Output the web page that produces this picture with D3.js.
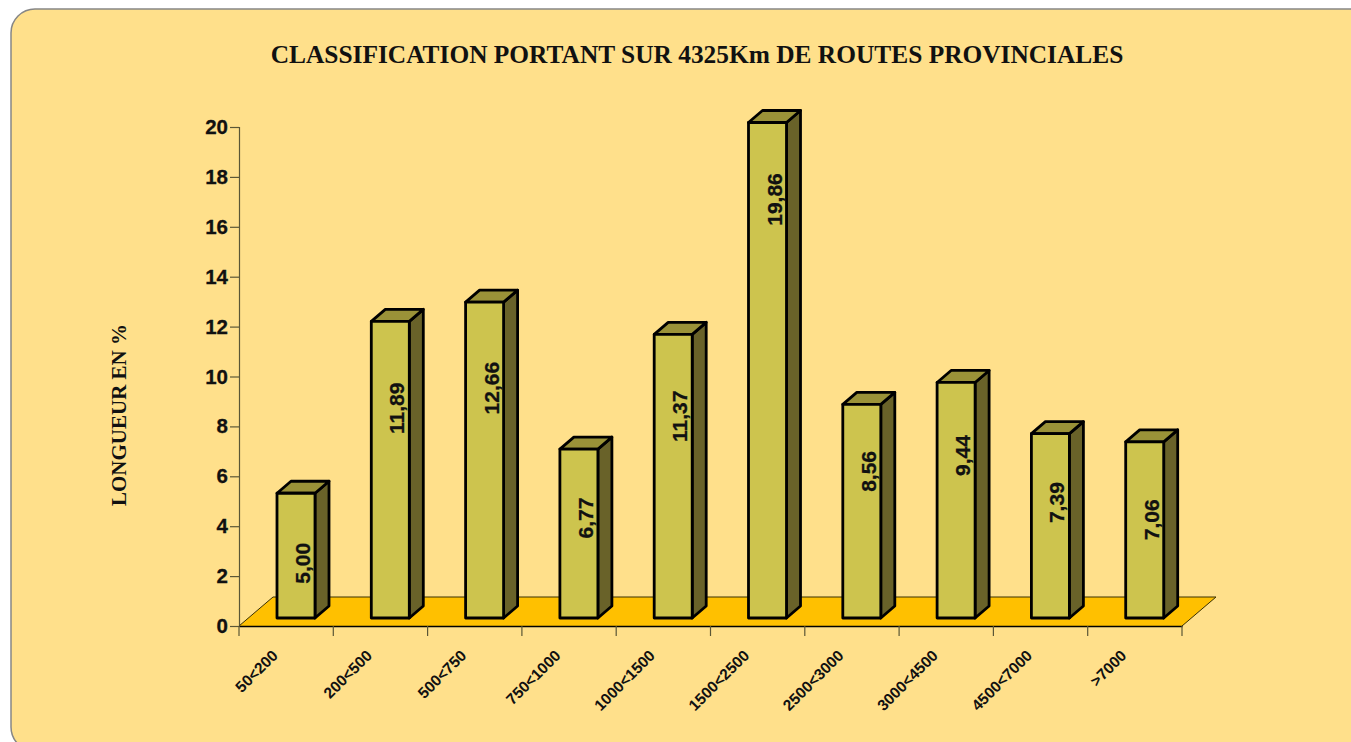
<!DOCTYPE html>
<html>
<head>
<meta charset="utf-8">
<script src="https://cdn.jsdelivr.net/npm/d3@7"></script>
<style>
html, body { margin: 0; padding: 0; background: #fff; overflow: hidden; }
svg { display: block; }
</style>
</head>
<body>
<div id="chart"></div>
<script>
const categories = ['50<200', '200<500', '500<750', '750<1000', '1000<1500', '1500<2500', '2500<3000', '3000<4500', '4500<7000', '>7000'];
const values = [5.00, 11.89, 12.66, 6.77, 11.37, 19.86, 8.56, 9.44, 7.39, 7.06];
const valueTicks = [0, 2, 4, 6, 8, 10, 12, 14, 16, 18, 20];

const titleText = 'CLASSIFICATION PORTANT SUR 4325Km DE ROUTES PROVINCIALES';
const yAxisText = 'LONGUEUR EN %';

// distance from the bar top to the middle of its label, read per bar from the picture
const labelDrop = [70, 87, 86, 69, 82, 77, 67, 73, 69, 78];

const width = 1351;
const height = 742;
const barWidth = 38;
const depthX = 34, depthY = 29;   // floor depth
const barDepthX = 14, barDepthY = 12;
const arial = '"Liberation Sans", Arial, sans-serif';
const times = '"Liberation Serif", "Times New Roman", serif';

const svg = d3.select('#chart')
    .append('svg')
    .attr('width', width)
    .attr('height', height);

const xScale = d3.scaleBand()
    .domain(categories)
    .range([239, 1182]);

const yScale = d3.scaleLinear()
    .domain([0, 20])
    .range([626, 127]);

// Panel background
svg.append('rect')
    .attr('x', 11)
    .attr('y', 9)
    .attr('width', 1400)
    .attr('height', 742)
    .attr('rx', 24)
    .attr('ry', 24)
    .attr('fill', '#ffe08b')
    .attr('stroke', '#868686')
    .attr('stroke-width', 1.5);

// Floor
const x0 = xScale.range()[0], x1 = xScale.range()[1], y0 = yScale(0);
svg.append('path')
    .attr('d', `M${x0},${y0}L${x0 + depthX},${y0 - depthY}L${x1 + depthX},${y0 - depthY}L${x1},${y0}Z`)
    .attr('fill', '#ffc000')
    .attr('stroke', 'none');
svg.append('path')
    .attr('d', `M${x0},${y0}L${x0 + depthX},${y0 - depthY}L${x1 + depthX},${y0 - depthY}L${x1},${y0}`)
    .attr('fill', 'none')
    .attr('stroke', '#3a3000')
    .attr('stroke-width', 1);

// Axes
const yAxis = d3.axisLeft(yScale)
    .tickValues(valueTicks)
    .tickSize(9)
    .tickPadding(2);
const yG = svg.append('g')
    .attr('transform', `translate(${x0},0)`)
    .call(yAxis);
yG.selectAll('.domain, line').attr('stroke', '#5a5636').attr('stroke-width', 1.2);
yG.selectAll('text')
    .attr('font-family', arial)
    .attr('font-size', 20.5)
    .attr('font-weight', 'bold')
    .attr('fill', '#111')
    .attr('stroke', '#111')
    .attr('stroke-width', 0.3);

const xAxis = d3.axisBottom(xScale)
    .tickValues([])
    .tickSizeOuter(0);
const xG = svg.append('g')
    .attr('transform', `translate(0,${y0})`)
    .call(xAxis);
xG.select('.domain').attr('stroke', '#000').attr('stroke-width', 1.4);

// Separator ticks between the categories
xG.selectAll('line.sep')
    .data(categories.concat(['end']))
    .enter()
    .append('line')
    .attr('class', 'sep')
    .attr('x1', (d, i) => i < categories.length ? xScale(d) : x1)
    .attr('x2', (d, i) => i < categories.length ? xScale(d) : x1)
    .attr('y1', 0)
    .attr('y2', 10)
    .attr('stroke', '#5a5636')
    .attr('stroke-width', 1.2);

// Category labels
svg.append('g')
    .selectAll('text')
    .data(categories)
    .enter()
    .append('text')
    .attr('transform', d => `translate(${xScale(d) + xScale.bandwidth() / 2 - 14},650) rotate(-45)`)
    .attr('text-anchor', 'end')
    .attr('font-family', arial)
    .attr('font-size', 15.5)
    .attr('font-weight', 'bold')
    .attr('fill', '#111')
    .attr('dy', '0.6em')
    .text(d => d);

// 3D bars
const barLeft = d => xScale(d) + 38;
const baseY = y0 - 8;
const barTop = v => baseY - (yScale(0) - yScale(v));

const bars = svg.append('g')
    .selectAll('g')
    .data(categories)
    .enter()
    .append('g')
    .attr('stroke', '#000')
    .attr('stroke-width', 2.8)
    .attr('stroke-linejoin', 'round');

bars.append('path')
    .attr('d', (d, i) => {
        const l = barLeft(d) + barWidth, t = barTop(values[i]);
        return `M${l},${t}L${l + barDepthX},${t - barDepthY}L${l + barDepthX},${baseY - barDepthY}L${l},${baseY}Z`;
    })
    .attr('fill', '#696229');

bars.append('path')
    .attr('d', (d, i) => {
        const l = barLeft(d), t = barTop(values[i]);
        return `M${l},${t}L${l + barDepthX},${t - barDepthY}L${l + barWidth + barDepthX},${t - barDepthY}L${l + barWidth},${t}Z`;
    })
    .attr('fill', '#9a9238');

bars.append('rect')
    .attr('x', d => barLeft(d))
    .attr('y', (d, i) => barTop(values[i]))
    .attr('width', barWidth)
    .attr('height', (d, i) => baseY - barTop(values[i]))
    .attr('fill', '#cdc44e');

// Value labels
svg.append('g')
    .selectAll('text')
    .data(categories)
    .enter()
    .append('text')
    .attr('transform', (d, i) => `translate(${barLeft(d) + 33},${barTop(values[i]) + labelDrop[i]}) rotate(-90)`)
    .attr('text-anchor', 'middle')
    .attr('font-family', arial)
    .attr('font-size', 21)
    .attr('font-weight', 'bold')
    .attr('fill', '#111')
    .attr('stroke', '#111')
    .attr('stroke-width', 0.3)
    .text((d, i) => values[i].toFixed(2).replace('.', ','));

// Titles
svg.append('text')
    .attr('x', 697)
    .attr('y', 63)
    .attr('text-anchor', 'middle')
    .attr('font-family', times)
    .attr('font-size', 25.4)
    .attr('font-weight', 'bold')
    .attr('fill', '#111')
    .text(titleText);

svg.append('text')
    .attr('transform', 'translate(126,415) rotate(-90)')
    .attr('text-anchor', 'middle')
    .attr('font-family', times)
    .attr('font-size', 21)
    .attr('font-weight', 'bold')
    .attr('fill', '#111')
    .text(yAxisText);
</script>
</body>
</html>
